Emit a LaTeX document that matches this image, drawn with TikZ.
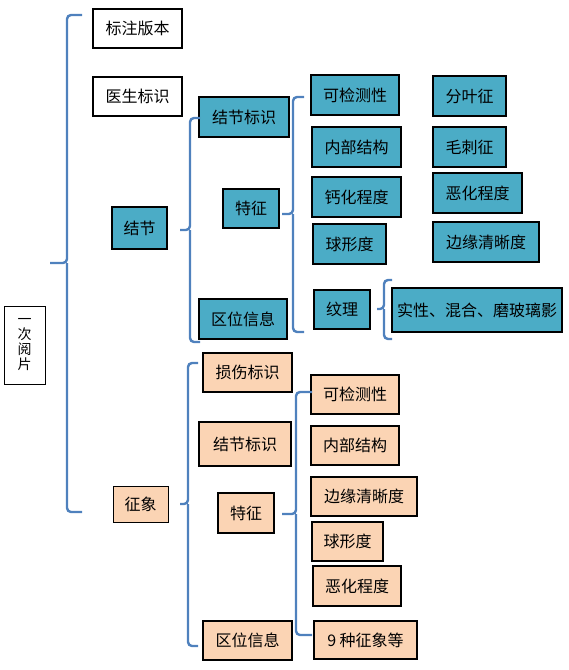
\documentclass[tikz,border=0pt]{standalone}
\usepackage{fontspec}
\setmainfont{Noto Sans CJK SC}
\usetikzlibrary{calc}
\definecolor{Haiqing}{RGB}{75,172,198}
\definecolor{Qianju} {RGB}{251,212,180}
\definecolor{Kuolan} {RGB}{79,129,189}
% brace: x, top, middle, bottom, tip, end
\newcommand\kuohao[6]{%
  \draw[brace] (#6,#2) -| (#1,#3) -- (#5,#3);
  \draw[brace] (#1,#3) |- (#6,#4);}

\begin{document}
\begin{tikzpicture}[x=1pt,y=-1pt,
    kuang/.style={draw=black,line width=1.8pt,inner sep=0pt,font=\fontsize{16}{19}\selectfont},
    brace/.style={draw=Kuolan,line width=2.4pt,rounded corners=4pt}]
  \useasboundingbox (0,0) rectangle (569,670);
  % left column
  \node[kuang,fill=white,line width=1pt,align=center,minimum width=41pt,minimum height=78pt,
        font=\fontsize{14}{15}\selectfont] (ycyp) at (24.5,345) {一\\次\\阅\\片};
  \node[kuang,fill=white,minimum width=89pt,minimum height=39pt] (bzbb) at (137.5,28.5) {标注版本};
  \node[kuang,fill=white,line width=1.2pt,minimum width=89pt,minimum height=39pt] (yszs) at (137.5,96.5) {医生标识};
  \node[kuang,fill=Qianju,line width=1pt,minimum width=55pt,minimum height=36pt] (zx) at (140.5,504) {征象};
  % boxes: name/x1/y1/x2/y2/fill/text
  \foreach \nm/\a/\b/\c/\d/\f/\txt in {
      jj/112/207/167/249/Haiqing/结节,
      jjbz/199/97/289/137/Haiqing/结节标识,
      tz/223/189/279/228/Haiqing/特征,
      qw/199/299/287/339/Haiqing/区位信息,
      kjc/311/75/399/115/Haiqing/可检测性,
      nbjg/312/127/401/167/Haiqing/内部结构,
      ghcd/312/177/401/217/Haiqing/钙化程度,
      qxd/313/224/386/264/Haiqing/球形度,
      wl/314/290/370/329/Haiqing/纹理,
      fyz/433/76/506/116/Haiqing/分叶征,
      mcz/433/127/506/167/Haiqing/毛刺征,
      ehcd/433/173/522/213/Haiqing/恶化程度,
      byqx/433/222/539/262/Haiqing/边缘清晰度,
      sx/392/288/562/332/Haiqing/实性、混合、磨玻璃影,
      ssbz/203/353/292/392/Qianju/损伤标识,
      jjbzb/199/422/291/466/Qianju/结节标识,
      tzb/218/493/274/533/Qianju/特征,
      qwb/203/621/292/660/Qianju/区位信息,
      kjcb/311/375/399/414/Qianju/可检测性,
      nbjgb/311/426/399/465/Qianju/内部结构,
      byqxb/311/477/417/516/Qianju/边缘清晰度,
      qxdb/312/522/383/561/Qianju/球形度,
      ehcdb/313/566/401/606/Qianju/恶化程度,
      jzzx/314/621/417/659/Qianju/9 种征象等}{
    \node[kuang,fill=\f,minimum width={(\c-\a)*1pt},minimum height={(\d-\b)*1pt}]
      (\nm) at ({(\a+\c)/2},{(\b+\d)/2}) {\txt};
  }
  % braces
  \kuohao{67}{15}{263}{512}{50}{82}
  \kuohao{190}{118}{230}{342}{180}{200}
  \kuohao{293}{97}{214}{332}{282}{304}
  \kuohao{384}{280}{309}{339}{377}{392}
  \kuohao{188}{363}{504}{646}{180}{198}
  \kuohao{296}{392}{514}{635}{282}{312}
\end{tikzpicture}
\end{document}
